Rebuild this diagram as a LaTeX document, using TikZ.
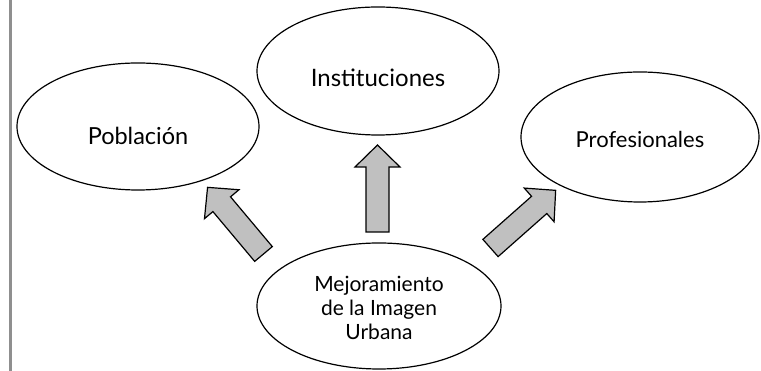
\documentclass[tikz,border=0pt]{standalone}
\usepackage{fontspec}
\setmainfont{Lato}
\usetikzlibrary{shapes.geometric}
\definecolor{bargray}{HTML}{8F8F8F}
\definecolor{arrfill}{HTML}{C0C0C0}
\tikzset{
  bubble/.style={draw=black, line width=1.2pt, ellipse, inner sep=0pt},
  lbl/.style={inner sep=0pt, align=center},
  blockarrow/.pic={
    \draw[line width=1.2pt, fill=arrfill, line join=miter]
      (0,-11.5) -- (65,-11.5) -- (65,-22.5) -- (87,0) -- (65,22.5) -- (65,11.5) -- (0,11.5) -- cycle;
  }
}
\begin{document}
\begin{tikzpicture}[x=1pt, y=1pt]
\useasboundingbox (0,0) rectangle (761,371);
\fill[bargray] (9,0) rectangle (12,371);

\node[bubble, minimum width=242pt, minimum height=127pt] (P) at (138,244.5) {};
\node[bubble, minimum width=242pt, minimum height=128pt] (I) at (378,300) {};
\node[bubble, minimum width=238pt, minimum height=130pt] (F) at (640,234) {};
\node[bubble, minimum width=244pt, minimum height=126pt] (M) at (379,65) {};

\node[lbl, font=\fontsize{23.5}{28}\selectfont] (tP) at ([yshift=-9pt]P.center) {Población};
\node[lbl, font=\fontsize{24}{28}\selectfont] (tI) at ([yshift=-7pt]I.center) {Instituciones};
\node[lbl, font=\fontsize{22}{26}\selectfont] (tF) at ([yshift=-2pt]F.center) {Profesionales};
\node[lbl, font=\fontsize{21}{24}\selectfont] (tM) at ([yshift=-2pt]M.center) {Mejoramiento\\de la Imagen\\Urbana};

\pic[rotate=130] at (263.5,117) {blockarrow};
\pic[rotate=90] at (377.5,139) {blockarrow};
\pic[rotate=41.5] at (490.5,123) {blockarrow};
\end{tikzpicture}
\end{document}
